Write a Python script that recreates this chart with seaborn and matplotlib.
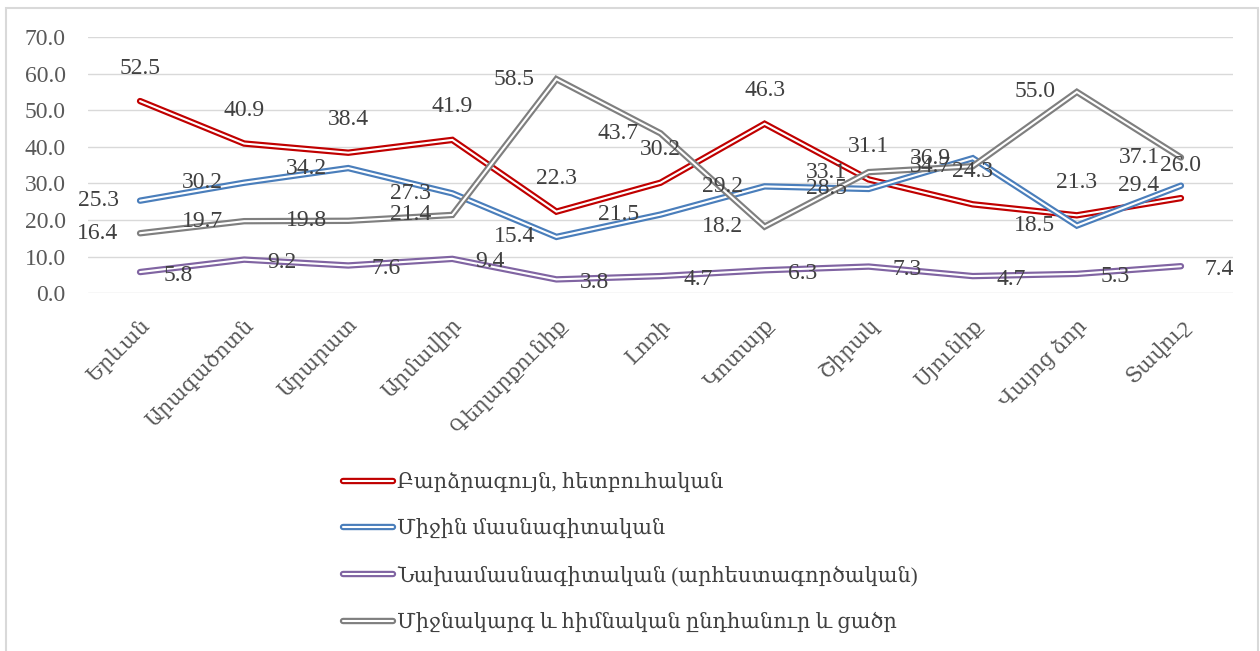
import numpy as np
import matplotlib
matplotlib.use('Agg')
import matplotlib.pyplot as plt
import matplotlib.patheffects as pe
import matplotlib.transforms as mtransforms
from matplotlib.patches import Rectangle
import seaborn as sns

# Regions (x categories)
regions = ['Երևան', 'Արագածոտն', 'Արարատ', 'Արմավիր', 'Գեղարքունիք', 'Լոռի',
           'Կոտայք', 'Շիրակ', 'Սյունիք', 'Վայոց ձոր', 'Տավուշ']

# Series names (legend)
series_names = ['Բարձրագույն, հետբուհական',
                'Միջին մասնագիտական',
                'Նախամասնագիտական (արհեստագործական)',
                'Միջնակարգ և հիմնական ընդհանուր և ցածր']

# Values, %
higher = [52.5, 40.9, 38.4, 41.9, 22.3, 30.2, 46.3, 31.1, 24.3, 21.3, 26.0]
vocational = [25.3, 30.2, 34.2, 27.3, 15.4, 21.5, 29.2, 28.5, 36.9, 18.5, 29.4]
prevocational = [5.8, 9.2, 7.6, 9.4, 3.8, 4.7, 6.3, 7.3, 4.7, 5.3, 7.4]
general = [16.4, 19.7, 19.8, 21.4, 58.5, 43.7, 18.2, 33.1, 34.7, 55.0, 37.1]

y_ticks = [0, 10, 20, 30, 40, 50, 60, 70]

colors = ['#C00000', '#4A7EBB', '#8064A2', '#7F7F7F']
# data label offsets (pixels): red above, blue left, purple right, gray left
label_offsets = [(0, 33), (-42, 0), (38, -3), (-42, 0)]

sns.set_style('white')
plt.rcParams['font.family'] = ['Liberation Serif', 'DejaVu Serif', 'DejaVu Sans']

fig = plt.figure(figsize=(12.6, 6.51), dpi=100, facecolor='w')
ax = fig.add_axes([88 / 1260, 1 - 293.3 / 651, 1145 / 1260, (293.3 - 37) / 651])

pos = np.arange(len(regions))
all_values = [higher, vocational, prevocational, general]
for name, values, color, offset in zip(series_names, all_values, colors, label_offsets):
    sns.lineplot(
        x=pos, y=values, ax=ax, color='white', linewidth=1.5, label=name,
        solid_capstyle='round', solid_joinstyle='miter',
        path_effects=[pe.Stroke(linewidth=4.6, foreground=color), pe.Normal()]
    )
    for xi, v in zip(pos, values):
        ax.annotate('{:.1f}'.format(v), (xi, v), xytext=offset, textcoords='offset pixels',
                    ha='center', va='center', fontsize=17, color='#404040')

ax.set_xlim(-0.5, len(regions) - 0.5)
ax.set_ylim(0, 70)
ax.set_yticks(y_ticks)
ax.set_yticklabels(['{:.1f}'.format(t) for t in y_ticks], fontsize=17, color='#595959')
ax.set_xticks(pos)
ax.set_xticklabels(regions, rotation=45, ha='right', rotation_mode='anchor',
                   fontsize=15, color='#595959')
shift = mtransforms.ScaledTranslation(-0.22, 0, fig.dpi_scale_trans)
for lbl in ax.get_xticklabels():
    lbl.set_transform(lbl.get_transform() + shift)
ax.tick_params(axis='both', length=0)
ax.tick_params(axis='x', pad=16)
ax.tick_params(axis='y', pad=16)
ax.grid(axis='y', color='#D9D9D9', linewidth=1.0)
ax.set_axisbelow(True)
for side in ['top', 'right', 'left', 'bottom']:
    ax.spines[side].set_visible(False)

handles, labels = ax.get_legend_handles_labels()
ax.legend([], [], frameon=False)
fig.legend(handles, labels, loc='upper left', bbox_to_anchor=(343 / 1260, 1 - 473 / 651),
           frameon=False, fontsize=15, handlelength=2.4, handletextpad=0.2,
           labelspacing=1.25, borderpad=0, borderaxespad=0, labelcolor='#404040')

# outer chart frame
fig.patches.append(Rectangle((6 / 1260, -0.05), 1252 / 1260, 1.05 - 8 / 651,
                             transform=fig.transFigure, fill=False,
                             edgecolor='#D9D9D9', linewidth=1.5))

plt.savefig('out.png', dpi=100)
